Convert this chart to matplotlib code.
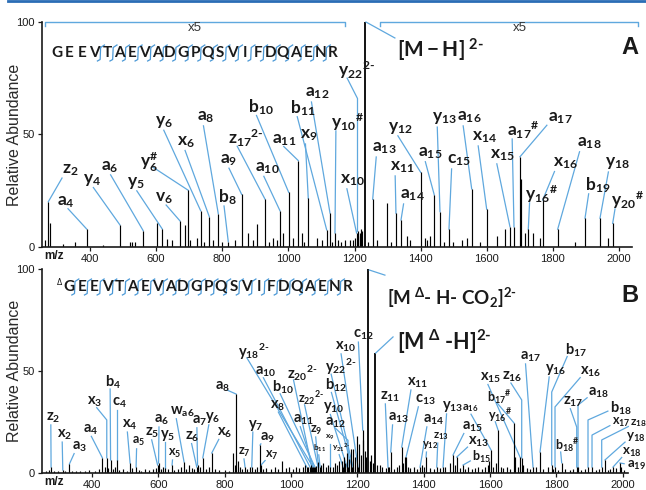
import matplotlib
matplotlib.use("Agg")
import matplotlib.pyplot as plt
import matplotlib.transforms as mtransforms
import numpy as np

plt.rcParams["font.family"] = ["Liberation Sans", "DejaVu Sans"]
plt.rcParams["mathtext.fontset"] = "custom"
plt.rcParams["mathtext.bf"] = "Lato:bold"
plt.rcParams["mathtext.rm"] = "Lato:bold"
plt.rcParams["mathtext.it"] = "Lato:italic"
plt.rcParams["mathtext.sf"] = "Lato"
plt.rcParams["mathtext.default"] = "bf"

BLUE = "#5fa8de"
SEQ_BLUE = "#4a98d6"
INK = "#1a1a1a"

sequence = list("GEEVTAEVADGPQSVIFDQAENR")
xticks = [400, 600, 800, 1000, 1200, 1400, 1600, 1800, 2000]
yticks = [0, 50, 100]

C2 = r"{}^{2\text{-}}"   # "2-" charge superscript
HS = r"{}^{\#}"

# ---------------- panel A (m/z, relative abundance) ----------------
a_parent_mz = 1231.6
a_parent_int = 100

a_names = [r"$z_{2}$", r"$a_{4}$", r"$y_{4}$", r"$a_{6}$", r"$y_{5}$", r"$v_{6}$",
           r"$y_{6}^{\#}$", r"$y_{6}$", r"$x_{6}$", r"$a_{8}$", r"$b_{8}$", r"$a_{9}$",
           r"$z_{17}" + C2 + "$", r"$a_{10}$", r"$b_{10}$", r"$a_{11}$", r"$x_{9}$", r"$b_{11}$",
           r"$a_{12}$", r"$y_{10}" + HS + "$", r"$x_{10}$", r"$y_{22}" + C2 + "$", r"$a_{13}$",
           r"$x_{11}$", r"$a_{14}$", r"$y_{12}$", r"$a_{15}$", r"$y_{13}$", r"$c_{15}$",
           r"$a_{16}$", r"$x_{14}$", r"$x_{15}$", r"$a_{17}" + HS + "$", r"$a_{17}$",
           r"$y_{16}" + HS + "$", r"$x_{16}$", r"$a_{18}$", r"$b_{19}$", r"$y_{18}$",
           r"$y_{20}" + HS + "$"]
a_mz = [274, 390, 490.7, 561.2, 618.6, 672.2, 697.3, 734.8, 760.8, 788.0, 818.2, 858.7,
        929.2, 974.6, 1000.9, 1029.9, 1060.1, 1115.8, 1125.8, 1140.9, 1206.3, 1209,
        1254.9, 1325.3, 1340.5, 1400, 1441.2, 1458.4, 1485.6, 1554.3, 1599.6, 1670,
        1682.2, 1700.3, 1725.4, 1769, 1814.3, 1896.9, 1942.2, 1980.6]
a_int = [20.1, 8.0, 9.8, 7.2, 8.0, 11.6, 25.2, 16.1, 13.5, 14.8, 2.4, 23.4,
         21.3, 16.1, 24.3, 38.4, 21.6, 7.6, 15.1, 6.2, 6.2, 7.0,
         21.2, 15.0, 12.0, 33.2, 23.1, 15.7, 7.9, 25.8, 16.8, 9.0,
         9.0, 40.1, 7.9, 20.9, 7.9, 12.8, 12.8, 10.5]
a_tx = [329.5, 314.4, 394, 448.4, 526.1, 611.7, 566.3, 611.7, 678.2, 738.7, 802.2, 808.2,
        832.4, 914, 892.9, 965.5, 1050.2, 1019.9, 1065.3, 1143.9, 1171.1, 1165,
        1267.9, 1322.3, 1352.6, 1316.3, 1407, 1449.3, 1494.7, 1524.9, 1570.3, 1624.7,
        1676.1, 1800, 1730.6, 1815.2, 1887.8, 1912, 1972.5, 1992]
a_ty = [34.2, 20.1, 29.8, 35.6, 28.4, 21.8, 37.8, 55.6, 46.7, 57.8, 22.2, 38.7,
        48.4, 35.1, 62.2, 47.6, 49.8, 61.8, 68.4, 55.6, 29.8, 78.7,
        44.0, 35.6, 23.1, 52.9, 41.8, 57.3, 38.7, 57.8, 48.9, 40.9,
        52.0, 57.3, 23.6, 37.3, 46.2, 27.6, 37.3, 20.9]
a_knees = {r"$y_{22}" + C2 + "$": 66.0}

a_minor = [(264, 3), (279, 10.7), (318, 1.5), (354.6, 2), (439, 1), (521, 2), (526, 2),
           (536, 2), (601.7, 10.7), (632, 3.5), (647, 3), (687, 9.8), (704, 3), (722.7, 4),
           (745, 2), (772.9, 3), (800, 2), (838, 3), (878.7, 6), (893.8, 3), (904, 10),
           (940, 2), (954, 4), (964.6, 3), (984.6, 6), (1014.8, 4), (1040, 6), (1048, 2),
           (1085.5, 4), (1100.6, 3), (1132, 2), (1150, 3), (1160, 2), (1170, 3), (1186, 3),
           (1196, 3), (1201, 4), (1212, 5), (1216.5, 6), (1219.5, 8), (1222.5, 7), (1240, 2),
           (1267, 3), (1297.2, 19.5), (1310, 2), (1357.7, 5), (1367.7, 3), (1413, 4),
           (1419, 3), (1428, 5), (1470, 2), (1498.6, 2), (1524, 3), (1539, 4), (1580, 2),
           (1629.8, 5), (1655, 8), (1702, 30), (1715.4, 6), (1740.6, 6), (1760.8, 4),
           (1866.6, 2), (1967.3, 4)]

# ---------------- panel B ----------------
b_parent_mz = [1232.1, 1253.2]
b_parent_int = [100, 58.8]

b_names = [r"$z_{2}$", r"$x_{2}$", r"$a_{3}$", r"$a_{4}$", r"$x_{3}$", r"$b_{4}$", r"$c_{4}$",
           r"$x_{4}$", r"$a_{5}$", r"$z_{5}$", r"$a_{6}$", r"$y_{5}$", r"$x_{5}$", r"$w_{a6}$",
           r"$z_{6}$", r"$a_{7}$", r"$y_{6}$", r"$x_{6}$", r"$a_{8}$", r"$y_{7}$", r"$a_{9}$",
           r"$z_{7}$", r"$x_{7}$", r"$y_{18}" + C2 + "$", r"$a_{10}$", r"$x_{8}$", r"$b_{10}$",
           r"$z_{20}" + C2 + "$", r"$z_{22}" + C2 + "$", r"$a_{11}$", r"$z_{9}$", r"$x_{9}$",
           r"$b_{11}$", r"$y_{21}" + C2 + "$", r"$y_{10}$", r"$a_{12}$", r"$b_{12}$",
           r"$y_{22}" + C2 + "$", r"$x_{10}$", r"$c_{12}$", r"$z_{11}$", r"$a_{13}$", r"$x_{11}$",
           r"$c_{13}$", r"$a_{14}$", r"$y_{12}$", r"$z_{13}$", r"$y_{13}$", r"$a_{15}$",
           r"$x_{13}$", r"$b_{15}$", r"$a_{16}$", r"$y_{16}" + HS + "$", r"$b_{17}" + HS + "$",
           r"$x_{15}$", r"$z_{16}$", r"$a_{17}$", r"$y_{16}$", r"$b_{17}$", r"$x_{16}$",
           r"$b_{18}" + HS + "$", r"$z_{17}$", r"$a_{18}$", r"$b_{18}$", r"$x_{17}$", r"$z_{18}$",
           r"$y_{18}$", r"$x_{18}$", r"$a_{19}$"]
b_mz = [276.4, 311.7, 331.6, 431.1, 444.3, 455.8, 474.5, 514.6, 532.7, 597.5, 600.5, 620.1,
        641.2, 677.4, 715.7, 718.1, 733.8, 760.9, 834.2, 881.5, 906.5, 861.3, 909.5,
        1066.3, 1057.3, 1047.3, 1072.3, 1062.4, 1081.4, 1067.8, 1081.4, 1117.6, 1087.4,
        1156.8, 1168.8, 1171.8, 1183.9, 1186.9, 1202, 1216.2, 1292.4, 1300.6, 1333.7,
        1346.7, 1388.9, 1407, 1439.3, 1458.3, 1488.4, 1499.6, 1518.6, 1603, 1624.1,
        1672.3, 1690.4, 1695.5, 1729.6, 1750.7, 1786, 1795.9, 1816.1, 1861.4, 1865.3,
        1895.4, 1907.5, 1936.7, 1946.7, 1970.8, 1991.9]
b_int = [2.9, 1.5, 4.4, 7.4, 7.4, 6.4, 6.4, 4.9, 2.9, 3.9, 4.9, 2.5,
         3.9, 5.4, 2.9, 3.9, 7.4, 9.8, 38.7, 2.9, 13.7, 2.9, 3.9,
         2.9, 2.9, 2.9, 2.9, 2.9, 2.9, 2.9, 5.4, 2.9, 2.9,
         2.9, 2.9, 2.9, 2.9, 2.9, 2.9, 21.0, 2.9, 10.3, 12.7,
         7.8, 2.9, 7.8, 2.9, 2.9, 8.8, 7.8, 3.9, 11.3, 21.1,
         24.5, 7.8, 7.4, 2.9, 10.3, 3.9, 2.9, 5.0, 2.9, 2.9,
         2.9, 2.9, 2.9, 6.4, 2.9, 4.9]
b_tx = [275.5, 309.5, 354.8, 387.9, 400, 454.3, 474.5, 504.6, 534.8, 574.9, 602, 620.1,
        644.2, 650.2, 695.5, 715.7, 755.8, 792, 785.9, 885.4, 921.6, 855.3, 936.7,
        855.3, 906.5, 951.7, 957.8, 1003, 1036.2, 1021.1, 1072.3, 1117.6, 1081.4,
        1138.7, 1112, 1117.6, 1116, 1116, 1147.7, 1202, 1283.4, 1307.5, 1364.8,
        1388.9, 1413, 1410, 1443.2, 1470.3, 1530.6, 1548.7, 1560.8, 1532, 1609,
        1606, 1584.9, 1651.2, 1705.5, 1780.9, 1841.2, 1886.4, 1811, 1835.1, 1910.5,
        1976.8, 1982, 2038, 2024, 2012, 2028]
b_ty = [27.0, 18.6, 12.7, 21.1, 34.8, 44.6, 34.3, 23.5, 15.3, 19.6, 26.0, 18.6,
        9.8, 30.0, 17.8, 25.6, 27.0, 19.6, 42.2, 23.5, 17.2, 10.3, 8.8,
        59.5, 49.8, 33.0, 42.0, 49.0, 36.8, 26.0, 21.1, 17.6, 12.3,
        12.3, 32.0, 24.5, 42.8, 51.8, 61.8, 67.6, 37.3, 27.0, 44.1,
        35.8, 26.0, 13.7, 18.1, 32.4, 22.5, 15.2, 7.8, 31.9, 28.4,
        37.3, 46.6, 47.1, 56.9, 50.5, 60.3, 49.5, 13.7, 34.8, 39.2,
        31.9, 25.0, 24.5, 17.6, 10.3, 3.9]
b_knees = {r"$x_{3}$": 26.0, r"$a_{12}$": 16.0, r"$z_{16}$": 35.8, r"$b_{17}$": 39.7,
           r"$x_{16}$": 32.4, r"$z_{17}$": 22.5, r"$a_{18}$": 33.3, r"$b_{18}$": 26.0,
           r"$x_{17}$": 18.6, r"$z_{18}$": 16.2}
b_small = {r"$a_{5}$": 9, r"$z_{7}$": 9, r"$x_{7}$": 9, r"$z_{22}" + C2 + "$": 9, r"$z_{9}$": 9,
           r"$x_{9}$": 6, r"$b_{11}$": 6, r"$y_{21}" + C2 + "$": 6, r"$y_{12}$": 8,
           r"$z_{13}$": 8, r"$b_{15}$": 9, r"$a_{16}$": 8, r"$y_{16}" + HS + "$": 9,
           r"$b_{17}" + HS + "$": 9, r"$b_{18}" + HS + "$": 9, r"$x_{5}$": 9,
           r"$x_{17}$": 9, r"$z_{18}$": 8.5, r"$y_{18}$": 9.5, r"$x_{18}$": 9.5,
           r"$a_{19}$": 9.5}

b_minor = [(262, 1), (270, 1.5), (285, 0.8), (298, 1.2), (318, 0.8), (340, 1), (352, 0.8),
           (365, 1.2), (380, 1), (392, 1.5), (410, 1), (420, 2), (438, 3), (448, 2.5),
           (462, 2), (468, 3), (482, 1.5), (492, 2), (505, 1.2), (520, 2.5), (540, 1.5),
           (548, 1), (560, 2), (572, 1.5), (585, 2), (592, 2.5), (608, 2), (615, 3), (630, 2),
           (648, 1.5), (660, 2), (668, 3), (684, 2), (692, 4), (700, 2.5), (708, 2), (726, 3),
           (745, 2), (752, 3), (770, 2), (782, 1.5), (800, 1.5), (812, 1.2), (826, 10),
           (830, 4), (840, 6), (846, 3), (852, 2), (868, 2), (875, 3), (890, 2), (896, 3),
           (915, 2), (925, 2.5), (940, 2), (952, 3), (960, 2), (972, 6), (985, 2.5),
           (995, 3), (1005, 2), (1015, 3), (1025, 2.5), (1035, 3), (1042, 4), (1052, 3),
           (1060, 4), (1075, 3.5), (1090, 4), (1096.5, 5), (1105, 3), (1112, 4), (1125, 3),
           (1132, 5), (1140, 4), (1145, 6), (1152.8, 6), (1160, 8), (1164, 5), (1168, 10),
           (1176, 7), (1180, 12), (1187.8, 12), (1192, 8), (1198, 18), (1205, 14),
           (1210, 9), (1218, 16), (1222, 11), (1226, 8), (1238, 6), (1242, 9), (1246, 5),
           (1258, 4), (1268, 4), (1275, 3), (1285, 2.5), (1296, 3), (1310, 2), (1318, 3),
           (1325, 4), (1338, 5), (1343.7, 8), (1352, 3), (1360, 2.5), (1370, 3), (1380, 2),
           (1395, 4), (1400, 3), (1418, 2.5), (1430, 2), (1450, 2.5), (1465, 3), (1478, 5),
           (1495, 4), (1508, 2.5), (1525, 2), (1535, 3), (1545, 2), (1555, 2.5), (1565, 3),
           (1575, 2), (1585, 3), (1595, 4), (1598, 6), (1610, 3), (1618, 5), (1632, 3),
           (1640, 2.5), (1650, 3), (1660, 2), (1675, 8), (1685, 3), (1700, 4), (1712, 2.5),
           (1720, 2), (1740, 3), (1760, 2), (1774.8, 3), (1790, 2), (1805, 1.5), (1825, 2),
           (1840, 1.5), (1850, 2), (1875, 1.5), (1885, 2), (1920, 1.5), (1930, 2),
           (1955, 1.5), (1962, 2), (1980, 2.5), (1995, 3), (2005, 1.5)]


fig = plt.figure(figsize=(6.46, 4.90), dpi=100)
axA = fig.add_axes([42 / 646, 243 / 490, 590 / 646, 225 / 490])
axB = fig.add_axes([42 / 646, 17 / 490, 586 / 646, 204 / 490])
axA.set_xlim(255, 2039)
axB.set_xlim(249, 2016)


def style_axes(ax):
    ax.set_ylim(0, 100)
    for s in ["top", "right"]:
        ax.spines[s].set_visible(False)
    for s in ["left", "bottom"]:
        ax.spines[s].set_linewidth(1.2)
        ax.spines[s].set_color(INK)
    ax.set_xticks(xticks)
    ax.set_yticks(yticks)
    ax.tick_params(length=3, width=0.9, labelsize=8, colors=INK, pad=2)
    ax.set_ylabel("Relative Abundance", fontsize=11.5, color="#2a2a2a")
    ax.yaxis.set_label_coords(-20 / 590, 0.5)
    ax.text(0.004, -0.014, "m/z", transform=ax.transAxes, ha="left", va="top",
            fontsize=8.5, fontweight="bold", color=INK)


def draw_peaks(ax, mz, inten):
    ax.vlines(mz, 0, inten, colors="black", lw=0.85, zorder=2)


def annotate(ax, names, mz, inten, tx, ty, knees, sizes, rx, ry):
    trans = ax.transData
    inv = trans.inverted()
    txt_trans = mtransforms.offset_copy(trans, fig=fig, x=-5, y=0, units="dots")
    for i, name in enumerate(names):
        cx, cy = trans.transform((tx[i], ty[i]))
        end = (mz[i], inten[i])
        pts = [end]
        if name in knees:
            pts = [(mz[i], knees[name]), end]
        px, py = trans.transform(pts[0])
        dx, dy = px - cx, py - cy
        t = min(0.9, 1.0 / np.hypot(dx / rx, dy / ry))
        sx, sy = inv.transform((cx + dx * t, cy + dy * t))
        xs = [sx] + [p[0] for p in pts]
        ys = [sy] + [p[1] for p in pts]
        ax.plot(xs, ys, color=BLUE, lw=0.9, clip_on=False, zorder=1)
        ax.text(tx[i], ty[i], name, fontsize=sizes.get(name, sizes["default"]),
                ha="left", va="center", color=INK, transform=txt_trans, clip_on=False,
                zorder=3)


style_axes(axA)
style_axes(axB)

# panel A
draw_peaks(axA, [m for m, _ in a_minor], [v for _, v in a_minor])
draw_peaks(axA, a_mz, a_int)
axA.vlines(a_parent_mz, 0, a_parent_int, colors="black", lw=1.3, zorder=2, clip_on=False)
annotate(axA, a_names, a_mz, a_int, a_tx, a_ty, a_knees, {"default": 12.5}, 10, 9)
axA.plot([a_parent_mz + 3, 1322], [100, 92.9], color=BLUE, lw=0.9, clip_on=False)
axA.text(1328, 87.6, r"$[M - H]^{\ 2\text{-}}$", fontsize=15, ha="left", va="center",
         color=INK)

# panel B
draw_peaks(axB, [m for m, _ in b_minor], [v for _, v in b_minor])
draw_peaks(axB, b_mz, b_int)
axB.vlines(b_parent_mz, 0, b_parent_int, colors="black", lw=1.3, zorder=2, clip_on=False)
b_sizes = dict(b_small)
b_sizes["default"] = 10.5
annotate(axB, b_names, b_mz, b_int, b_tx, b_ty, b_knees, b_sizes, 8, 7)
axB.plot([b_parent_mz[0] + 4, 1283], [99.5, 97], color=BLUE, lw=0.9, clip_on=False)
axB.text(1289, 85.8, r"$[M^{\ \Delta}\text{- }H\text{- }CO_{2}]^{2\text{-}}$", fontsize=13.5,
         ha="left", va="center", color=INK)
axB.plot([b_parent_mz[1] + 2, 1307.5], [58.8, 66.7], color=BLUE, lw=0.9, clip_on=False)
axB.text(1319, 64.2, r"$[M^{\ \Delta}\text{ -}H]^{2\text{-}}$", fontsize=15.5, ha="left",
         va="center", color=INK)

# ---------------- overlay: sequence, brackets, panel letters ----------------
ov = fig.add_axes([0, 0, 1, 1])
ov.set_xlim(0, 646)
ov.set_ylim(490, 0)
ov.axis("off")
ov.patch.set_alpha(0)

ov.plot([8, 646], [1.2, 1.2], color="#2a6db5", lw=2)


def draw_sequence(x0, step, y, first_cut):
    xs = [x0 + i * step for i in range(len(sequence))]
    for x, aa in zip(xs, sequence):
        ov.text(x, y, aa, fontsize=11, fontfamily="Lato", fontweight="bold",
                ha="center", va="center", color=INK)
    for i in range(first_cut, len(sequence) - 1):
        xm = (xs[i] + xs[i + 1]) / 2
        ov.plot([xm - 3.5, xm - 0.8, xm - 0.3, xm + 3.5],
                [y + 8, y + 6.5, y - 5.5, y - 8], color=SEQ_BLUE, lw=0.9)


draw_sequence(57, 12.55, 53, 3)
draw_sequence(69, 12.65, 287, 0)
ov.text(60, 282, "Δ", fontsize=5.5, fontfamily="DejaVu Sans", ha="center", va="center",
        color=INK)

for x0, x1, xl in [(45, 345, 195), (380, 638, 520)]:
    ov.plot([x0, x0, x1, x1], [26, 22, 22, 26], color=BLUE, lw=1.0)
    ov.text(xl, 28, "x5", fontsize=9.5, ha="center", va="center", color="#333333")

ov.text(630, 47, "A", fontsize=17, fontweight="bold", ha="center", va="center", color=INK)
ov.text(630, 295, "B", fontsize=17, fontweight="bold", ha="center", va="center", color=INK)

fig.savefig("out.png", dpi=100)
